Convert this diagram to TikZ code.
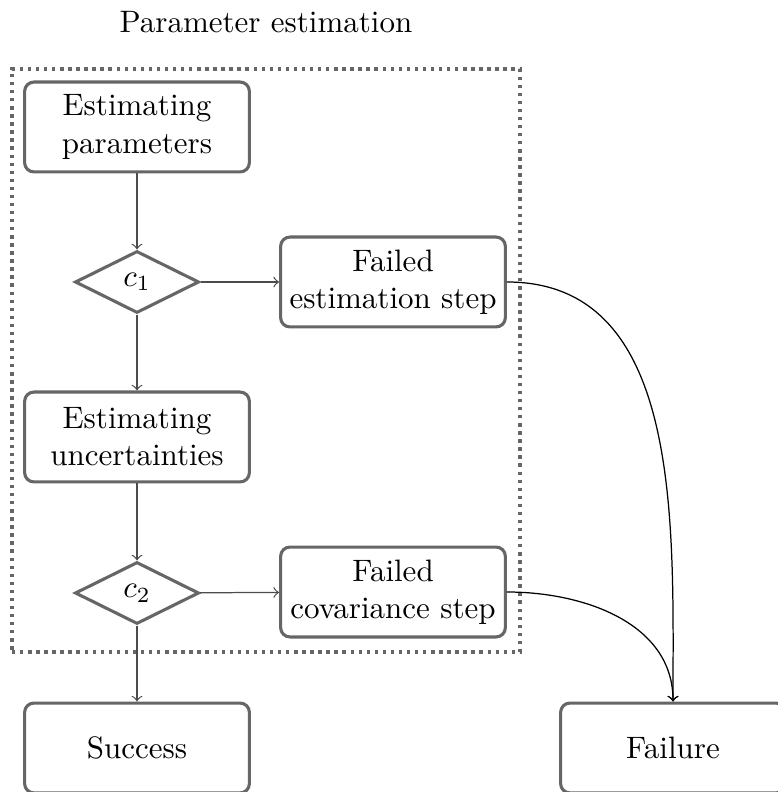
\documentclass[tikz,border=0pt]{standalone}
\usetikzlibrary{shapes.geometric,fit}
\begin{document}
\begin{tikzpicture}[x=0.32258pt,y=-0.32258pt,
  box/.style={draw=black!60,line width=1pt,rounded corners=3pt,fill=white,
    minimum width=72.5pt,minimum height=29pt,align=center,inner sep=1pt},
  dec/.style={draw=black!60,line width=1pt,diamond,aspect=2,
    minimum width=40pt,minimum height=20pt,inner sep=0pt},
  garrow/.style={draw=black!70,line width=0.4pt,->},
  carrow/.style={draw=black,line width=0.4pt,->}]
\useasboundingbox (0,0) rectangle (777,792);
\node[box] (ep) at (137,127) {Estimating\\parameters};
\node[dec] (c1) at (137,282) {$c_1$};
\node[box] (fe) at (393,282) {Failed\\estimation step};
\node[box] (eu) at (137,437) {Estimating\\uncertainties};
\node[dec] (c2) at (137,593) {$c_2$};
\node[box] (fc) at (393,592) {Failed\\covariance step};
\node[box] (su) at (137,748) {Success};
\node[box] (fa) at (673,748) {Failure};
\coordinate (tl) at (12,69);
\coordinate (br) at (520,652);
\node[draw=black!60,line width=1.1pt,dash pattern=on 1.1pt off 1.5pt,fit=(tl)(br),inner sep=0pt] (frame) {};
\node (title) at (266,22) {Parameter estimation};
\draw[garrow] (ep) -- (c1);
\draw[garrow] (c1) -- (fe);
\draw[garrow] (c1) -- (eu);
\draw[garrow] (eu) -- (c2);
\draw[garrow] (c2) -- (fc);
\draw[garrow] (c2) -- (su);
\draw[carrow] (fe.east) to[out=0,in=90] (fa.north);
\draw[carrow] (fc.east) to[out=0,in=90] (fa.north);
\end{tikzpicture}
\end{document}
